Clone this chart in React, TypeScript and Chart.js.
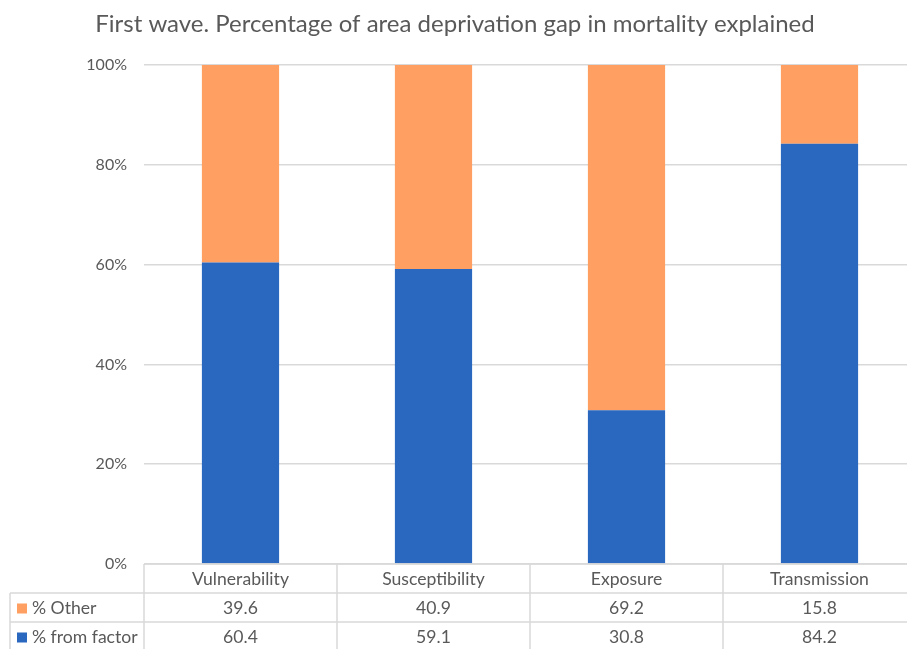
import React, { useEffect, useRef } from 'react';
import { Chart, registerables } from 'chart.js';

Chart.register(...registerables);

const TITLE = 'First wave. Percentage of area deprivation gap in mortality explained';
const categories = ['Vulnerability', 'Susceptibility', 'Exposure', 'Transmission'];
const otherValues = [39.6, 40.9, 69.2, 15.8];
const factorValues = [60.4, 59.1, 30.8, 84.2];
const seriesLabels = ['% Other', '% from factor'];
const yMin = 0;
const yMax = 100;
const yStep = 20;

const BLUE = '#2A67BE';
const ORANGE = '#FFA062';
const TEXT = '#595959';
const GRID = '#D9D9D9';
const FONT = 'Lato, "Open Sans", sans-serif';

const tablePlugin = {
  id: 'titleAndTable',
  afterDraw(chart: any) {
    const ctx = chart.ctx as CanvasRenderingContext2D;
    const area = chart.chartArea;
    const xs = chart.scales.x;
    ctx.save();
    // title
    ctx.fillStyle = TEXT;
    ctx.font = `24px ${FONT}`;
    ctx.textAlign = 'center';
    ctx.textBaseline = 'alphabetic';
    ctx.fillText(TITLE, 455, 32);

    const rowH = 29;
    const top = area.bottom;
    const leftX = 10;
    const half = (xs.getPixelForValue(1) - xs.getPixelForValue(0)) / 2;
    ctx.strokeStyle = GRID;
    ctx.lineWidth = 1.5;
    // horizontal lines
    ctx.beginPath();
    ctx.moveTo(area.left, top);
    ctx.lineTo(area.right, top);
    for (let r = 1; r <= 3; r++) {
      ctx.moveTo(leftX, top + r * rowH);
      ctx.lineTo(area.right, top + r * rowH);
    }
    // vertical lines
    ctx.moveTo(leftX, top + rowH);
    ctx.lineTo(leftX, top + 3 * rowH);
    for (let i = 0; i <= categories.length; i++) {
      const x = i === 0 ? area.left : xs.getPixelForValue(i - 1) + half;
      ctx.moveTo(x, top);
      ctx.lineTo(x, top + 3 * rowH);
    }
    ctx.stroke();

    ctx.fillStyle = TEXT;
    ctx.font = `17.6px ${FONT}`;
    ctx.textBaseline = 'middle';
    ctx.textAlign = 'center';
    categories.forEach((c, i) => {
      ctx.fillText(c, xs.getPixelForValue(i), top + rowH / 2 + 1);
    });
    const rows = [
      { label: seriesLabels[0], color: ORANGE, values: otherValues },
      { label: seriesLabels[1], color: BLUE, values: factorValues },
    ];
    rows.forEach((row, r) => {
      const cy = top + rowH * (r + 1) + rowH / 2 + 1;
      ctx.fillStyle = row.color;
      ctx.fillRect(17, cy - 5, 10, 10);
      ctx.fillStyle = TEXT;
      ctx.textAlign = 'left';
      ctx.fillText(row.label, 32, cy);
      ctx.textAlign = 'center';
      row.values.forEach((v, i) => {
        ctx.fillText(v.toFixed(1), xs.getPixelForValue(i), cy);
      });
    });
    ctx.restore();
  },
};

export default function App() {
  const ref = useRef<HTMLCanvasElement>(null);
  useEffect(() => {
    if (!ref.current) return;
    const chart = new Chart(ref.current, {
      type: 'bar',
      data: {
        labels: categories,
        datasets: [
          { label: seriesLabels[1], data: factorValues, backgroundColor: BLUE, barPercentage: 0.4, categoryPercentage: 1 },
          { label: seriesLabels[0], data: otherValues, backgroundColor: ORANGE, barPercentage: 0.4, categoryPercentage: 1 },
        ],
      },
      options: {
        animation: false,
        responsive: false,
        devicePixelRatio: 1,
        layout: { padding: { top: 65, bottom: 96, right: 14, left: 0 } },
        plugins: { legend: { display: false }, title: { display: false }, tooltip: { enabled: false } },
        scales: {
          x: { stacked: true, display: false },
          y: {
            stacked: true,
            min: yMin,
            max: yMax,
            border: { display: false },
            grid: { color: GRID, lineWidth: 1.5, drawTicks: false },
            ticks: {
              stepSize: yStep,
              padding: 17,
              color: TEXT,
              font: { family: FONT, size: 16 },
              callback: (v: any) => `${v}%`,
            },
            afterFit: (s: any) => { s.width = 144; },
          },
        },
      },
      plugins: [tablePlugin],
    });
    return () => chart.destroy();
  }, []);
  return (
    <div style={{ position: 'fixed', left: 0, top: 0, width: 907, height: 649, overflow: 'hidden', background: '#fff' }}>
      <canvas ref={ref} width={930} height={660} style={{ width: 930, height: 660, display: 'block' }} />
    </div>
  );
}
